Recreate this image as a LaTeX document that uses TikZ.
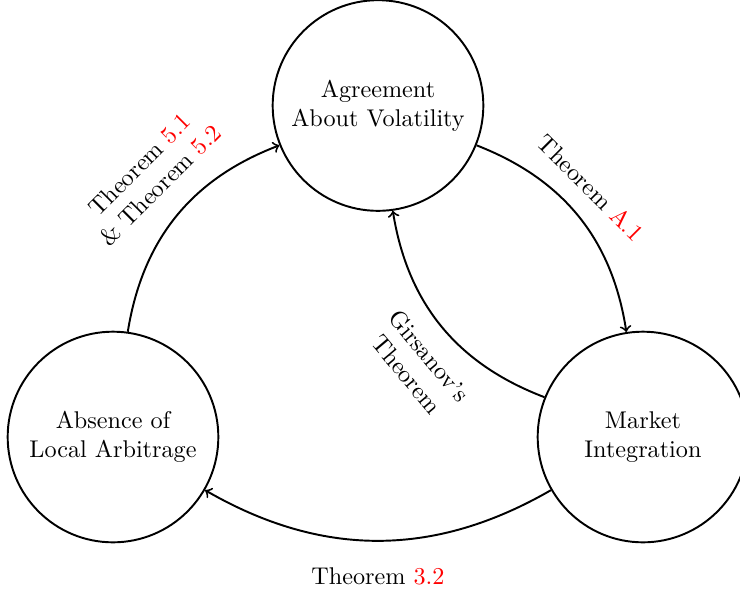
\documentclass[tikz,border=0pt]{standalone}
\begin{document}
\begin{tikzpicture}[x=0.01452cm, y=-0.01452cm,
  state/.style={draw, thick, circle, minimum size=3.06cm, align=center, inner sep=0pt},
  link/.style={->, thick},
  lbl/.style={align=center, inner sep=1pt}]
\useasboundingbox (0,0) rectangle (740,592);

% the three properties
\node[state] (vol) at (378,105.5) {Agreement\\About Volatility};
\node[state] (arb) at (113,437) {Absence of\\Local Arbitrage};
\node[state] (mkt) at (643,437) {Market\\Integration};

% implications between them
\draw[link] (arb.82) to[bend left=30] (vol.202);
\draw[link] (vol.338) to[bend left=30] (mkt.99);
\draw[link] (mkt.158) to[bend left=30] (vol.278);
\draw[link] (mkt.210) to[bend left=30] (arb.330);

% labels
\node[lbl, rotate=45] (l1) at (150,175) {Theorem {\color{red}5.1}\\\& Theorem {\color{red}5.2}};
\node[lbl, rotate=-45] (l2) at (591,188) {Theorem {\color{red}A.1}};
\node[lbl, rotate=-50] (l3) at (418,365) {Girsanov's\\Theorem};
\node[lbl] (l4) at (378,576) {Theorem {\color{red}3.2}};
\end{tikzpicture}
\end{document}
